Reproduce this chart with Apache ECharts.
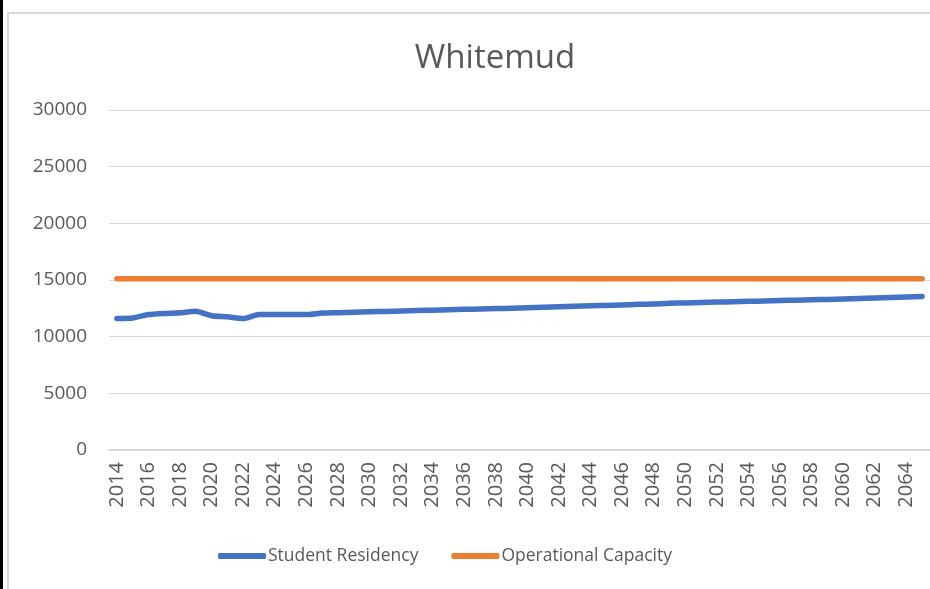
<!DOCTYPE html>
<html>
<head>
<meta charset="utf-8">
<style>
  html, body { margin: 0; padding: 0; background: #fff; }
  #chart { width: 930px; height: 589px; }
</style>
<script src="https://cdn.jsdelivr.net/npm/echarts@6/dist/echarts.min.js"></script>
</head>
<body>
<div id="chart"></div>
<script>
// Years on the category axis
const years = [];
for (let y = 2014; y <= 2065; y++) years.push(String(y));

// Projected student residency per year
const studentResidency = [
  11600, 11650, 11950, 12050, 12100, 12250, 11850, 11750, 11600, 11950,
  11950, 11950, 11950, 12080, 12120, 12160, 12200, 12230, 12270, 12300,
  12340, 12370, 12410, 12440, 12480, 12510, 12550, 12590, 12630, 12680,
  12720, 12760, 12800, 12850, 12890, 12940, 12980, 13010, 13050, 13080,
  13120, 13150, 13190, 13220, 13260, 13290, 13330, 13370, 13410, 13460,
  13500, 13550
];

// Operational capacity (constant over the period)
const operationalCapacity = years.map(() => 15100);

const yTicks = { min: 0, max: 30000, interval: 5000 };

const textColor = '#595959';
const gridColor = '#D9D9D9';
const font = '"Open Sans", "Noto Sans", sans-serif';

const chart = echarts.init(document.getElementById('chart'));
chart.setOption({
  backgroundColor: '#ffffff',
  animation: false,
  title: {
    text: 'Whitemud',
    left: 490,
    top: 37,
    textAlign: 'center',
    textStyle: { color: textColor, fontFamily: font, fontSize: 33, fontWeight: 'normal' }
  },
  grid: { left: 109, top: 110, width: 840, height: 340, containLabel: false },
  legend: {
    bottom: 19,
    left: 213,
    itemWidth: 48,
    itemHeight: 6,
    itemGap: 33,
    icon: 'roundRect',
    textStyle: { color: textColor, fontFamily: font, fontSize: 17.5, padding: [0, 0, 0, -3] },
    data: ['Student Residency', 'Operational Capacity']
  },
  xAxis: {
    type: 'category',
    data: years,
    boundaryGap: true,
    axisLine: { lineStyle: { color: gridColor, width: 2 } },
    axisTick: { show: false },
    axisLabel: {
      interval: 1,
      rotate: 90,
      margin: 12,
      color: textColor,
      fontFamily: font,
      fontSize: 20
    }
  },
  yAxis: {
    type: 'value',
    min: yTicks.min,
    max: yTicks.max,
    interval: yTicks.interval,
    axisLine: { show: false },
    axisTick: { show: false },
    splitLine: { lineStyle: { color: gridColor, width: 1 } },
    axisLabel: {
      color: textColor, fontFamily: font, fontSize: 19, margin: 22,
      formatter: (v) => String(v)
    }
  },
  series: [
    {
      name: 'Student Residency',
      type: 'line',
      data: studentResidency,
      showSymbol: false,
      symbol: 'none',
      smooth: 0.2,
      lineStyle: { color: '#4472C4', width: 5.5, cap: 'round', join: 'round' },
      itemStyle: { color: '#4472C4' }
    },
    {
      name: 'Operational Capacity',
      type: 'line',
      data: operationalCapacity,
      showSymbol: false,
      symbol: 'none',
      lineStyle: { color: '#ED7D31', width: 5.5, cap: 'round' },
      itemStyle: { color: '#ED7D31' }
    }
  ],
  graphic: [
    { type: 'rect', shape: { x: 0, y: 0, width: 3, height: 589 }, style: { fill: '#000' }, z: 100 },
    { type: 'polyline', shape: { points: [[8, 589], [8, 13], [930, 13]] },
      style: { stroke: gridColor, lineWidth: 2, fill: null }, z: 100 }
  ]
});
</script>
</body>
</html>
